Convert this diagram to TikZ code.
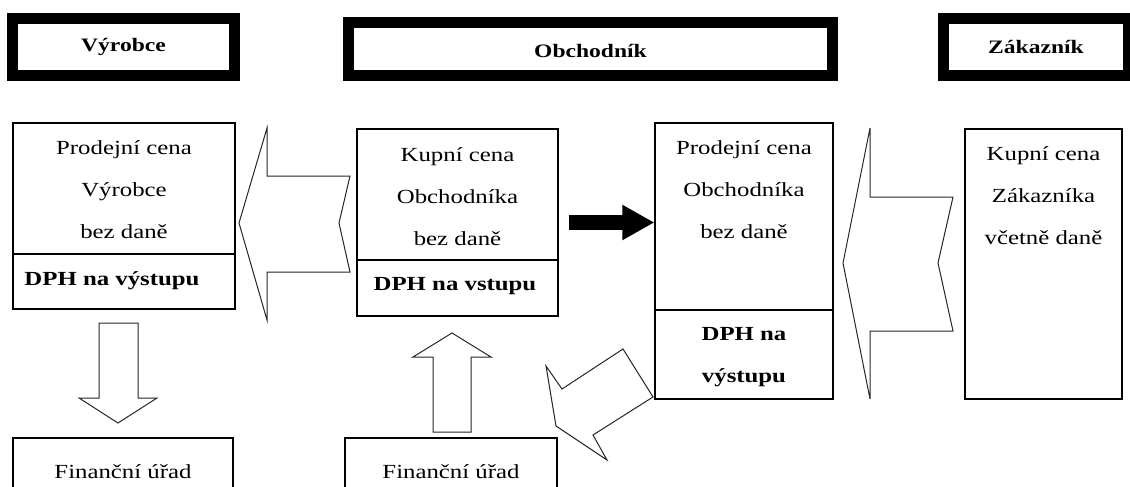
\documentclass[tikz,border=0pt]{standalone}
\usepackage{fontspec}
\setmainfont{Liberation Serif}[FakeStretch=1.24]
\usepackage{tikz}
\usetikzlibrary{arrows.meta, positioning}

\begin{document}
\begin{tikzpicture}[x=1pt, y=-1pt,
  headbox/.style={draw, line width=11pt, inner sep=0pt, font=\fontsize{19}{22}\selectfont\bfseries},
  pricebox/.style={draw, line width=1.2pt, inner sep=0pt, font=\fontsize{20}{42}\selectfont},
  txt/.style={align=center, inner sep=0pt, font=\fontsize{20}{42}\selectfont},
  dph/.style={align=center, inner sep=0pt, font=\fontsize{20}{42}\selectfont\bfseries},
  hollow/.style={draw=black!85, line width=1pt, fill=white, line join=miter},
  blackarrow/.style={line width=15pt, -{Triangle[length=32pt, width=33pt]}}]

  \useasboundingbox (0,0) rectangle (1130,487);
  \clip (0,0) rectangle (1130,487);

  \node[headbox, minimum width=222pt, minimum height=57pt] (vyrHead) at (123.5,47) {Výrobce};
  \node[headbox, minimum width=484pt, minimum height=53pt, text height=18pt, text depth=0pt] (obchHead) at (590.5,49) {Obchodník};
  \node[headbox, minimum width=185pt, minimum height=57pt] (zakHead) at (1036,47) {Zákazník};

  \node[pricebox, minimum width=222pt, minimum height=186pt] (vyrBox) at (124,216) {};
  \node[pricebox, minimum width=201pt, minimum height=187pt] (kupBox) at (457.5,222.5) {};
  \node[pricebox, minimum width=178pt, minimum height=276pt] (prodBox) at (744,261) {};
  \node[pricebox, minimum width=157pt, minimum height=270pt] (zakBox) at (1043.5,264) {};

  \draw[line width=1.2pt] (vyrBox.west |- 0,254) -- (vyrBox.east |- 0,254);
  \draw[line width=1.2pt] (kupBox.west |- 0,260) -- (kupBox.east |- 0,260);
  \draw[line width=1.2pt] (prodBox.west |- 0,310) -- (prodBox.east |- 0,310);

  \node[txt] (vyrCena) at (124,190) {Prodejní cena\\Výrobce\\bez daně};
  \node[dph] (vyrDph) at (112,281) {DPH na výstupu};
  \node[txt] (kupCena) at (457.5,197) {Kupní cena\\Obchodníka\\bez daně};
  \node[dph] (kupDph) at (455,286) {DPH na vstupu};
  \node[txt] (prodCena) at (744,190) {Prodejní cena\\Obchodníka\\bez daně};
  \node[dph] (prodDph) at (744,357) {DPH na\\výstupu};
  \node[txt] (zakCena) at (1043.5,196) {Kupní cena\\Zákazníka\\včetně daně};

  \node[pricebox, minimum width=220pt, minimum height=68pt] (fu1) at (123,472) {Finanční úřad};
  \node[pricebox, minimum width=212pt, minimum height=68pt] (fu2) at (451,472) {Finanční úřad};

  \draw[hollow] (239,223) -- (267,128) -- (267,176) -- (350,176) -- (339,223) -- (350,272) -- (267,272) -- (267,320) -- cycle;
  \draw[hollow] (843,263) -- (870,128) -- (870,197) -- (953,197) -- (938,263) -- (953,331) -- (870,331) -- (870,399) -- cycle;
  \draw[hollow] (99,323) -- (138,323) -- (138,398) -- (157,398) -- (118,423) -- (79,398) -- (99,398) -- cycle;
  \draw[hollow] (452,333) -- (491,357) -- (471,357) -- (471,432) -- (433,432) -- (433,357) -- (413,357) -- cycle;
  \draw[hollow] (623,349) -- (562,389) -- (546,366) -- (556,426) -- (607,460) -- (593,435) -- (653,397) -- cycle;

  \draw[blackarrow] ([xshift=10pt]kupBox.east) -- (kupBox.east -| prodBox.west);
\end{tikzpicture}
\end{document}
